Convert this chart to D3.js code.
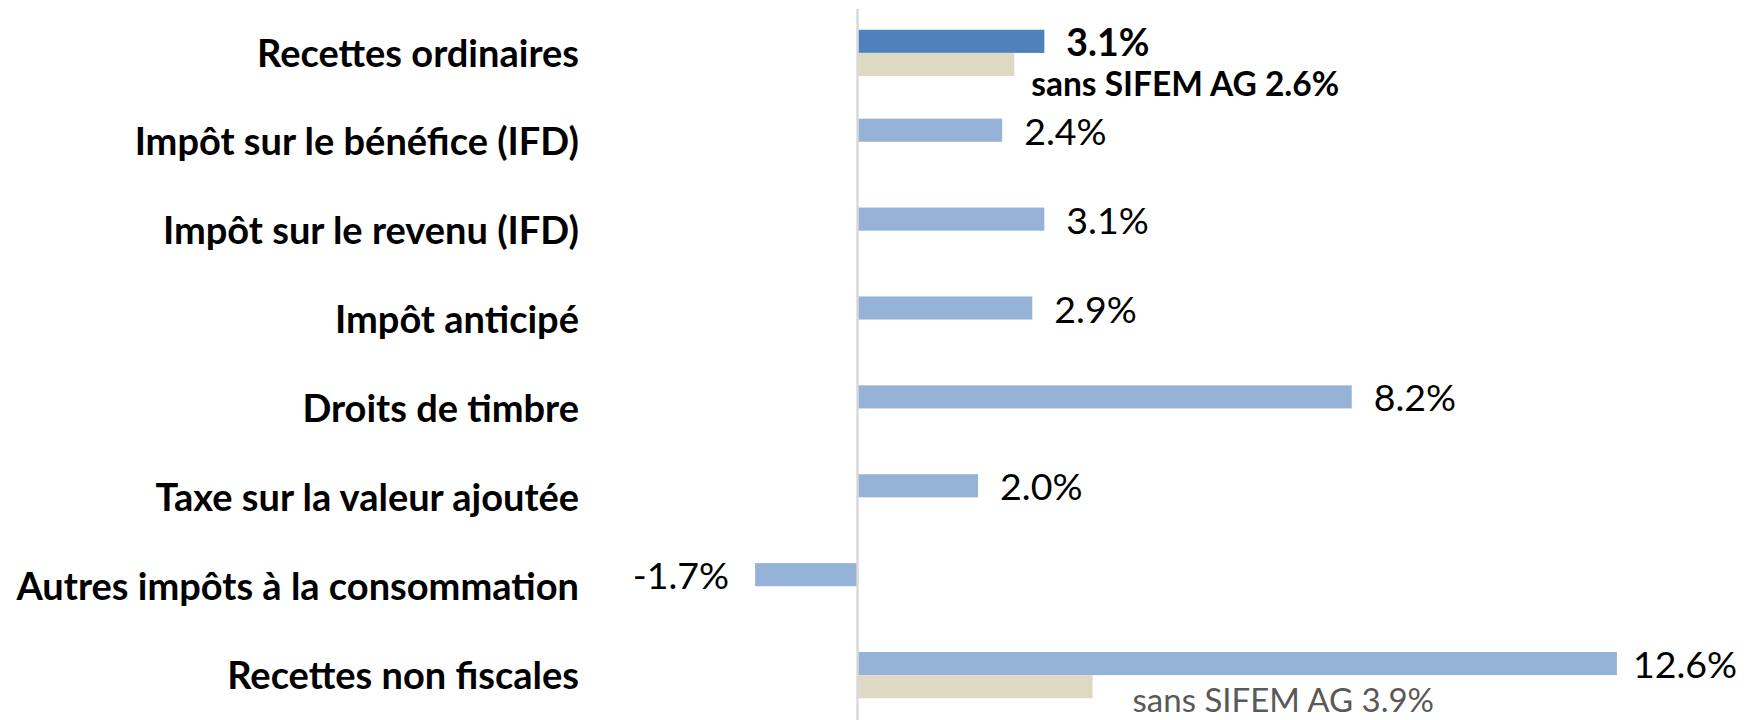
<!DOCTYPE html>
<html>
<head>
<meta charset="utf-8">
<script src="https://cdn.jsdelivr.net/npm/d3@7"></script>
<style>
    body { margin: 0; background: #fff; }
    svg text { font-family: Lato, "Open Sans", sans-serif; }
</style>
</head>
<body>
<div id="chart"></div>
<script>
// growth rates, in percent
const categories = [
    "Recettes ordinaires",
    "Impôt sur le bénéfice (IFD)",
    "Impôt sur le revenu (IFD)",
    "Impôt anticipé",
    "Droits de timbre",
    "Taxe sur la valeur ajoutée",
    "Autres impôts à la consommation",
    "Recettes non fiscales",
];
const values = [3.1, 2.4, 3.1, 2.9, 8.2, 2.0, -1.7, 12.6];
const valuesWithoutSifem = [2.6, null, null, null, null, null, null, 3.9];
const altLabelPrefix = "sans SIFEM AG ";

class GrowthBarChart {
    constructor(_config) {
        this.config = {
            parentElement: _config.parentElement,
            containerWidth: _config.containerWidth || 1752,
            containerHeight: _config.containerHeight || 720,
            labelRight: 579,
            labelSize: 38,
            valueSize: 37.5,
        };
        this.rows = categories.map((c, i) => ({
            category: c,
            value: values[i],
            alt: valuesWithoutSifem[i],
            highlight: i === 0,
        }));
        this.initVis();
    }

    initVis() {
        let vis = this;
        const fmt = (d) => `${d.toFixed(1)}%`;

        vis.svg = d3.select(vis.config.parentElement)
            .append("svg")
            .attr("width", vis.config.containerWidth)
            .attr("height", vis.config.containerHeight);

        vis.xScale = d3.scaleLinear().domain([-2, 13]).range([737, 1641]);
        vis.yScale = d3.scaleBand()
            .domain(categories)
            .range([12, 716])
            .paddingInner(0.48)
            .paddingOuter(0.2);
        vis.subScale = d3.scaleBand()
            .domain(["value", "alt"])
            .range([0, vis.yScale.bandwidth()]);

        const x0 = vis.xScale(0);
        const bh = vis.subScale.bandwidth();

        // row labels
        vis.svg.append("g")
            .selectAll("text")
            .data(vis.rows)
            .join("text")
            .attr("x", vis.config.labelRight)
            .attr("y", (d) => vis.yScale(d.category) + vis.yScale.bandwidth() / 2)
            .attr("dy", "0.36em")
            .attr("text-anchor", "end")
            .attr("font-size", vis.config.labelSize)
            .attr("font-weight", "bold")
            .attr("fill", "#000")
            .text((d) => d.category);

        // main bars
        vis.svg.append("g")
            .selectAll("rect")
            .data(vis.rows)
            .join("rect")
            .attr("x", (d) => Math.min(x0, vis.xScale(d.value)))
            .attr("y", (d) => vis.yScale(d.category) + vis.subScale("value"))
            .attr("width", (d) => Math.abs(vis.xScale(d.value) - x0))
            .attr("height", bh)
            .attr("fill", (d) => (d.highlight ? "#4f81bd" : "#95b3d7"));

        // bars without SIFEM AG
        const altRows = vis.rows.filter((d) => d.alt !== null);
        vis.svg.append("g")
            .selectAll("rect")
            .data(altRows)
            .join("rect")
            .attr("x", x0)
            .attr("y", (d) => vis.yScale(d.category) + vis.subScale("alt"))
            .attr("width", (d) => vis.xScale(d.alt) - x0)
            .attr("height", bh)
            .attr("fill", "#ddd9c4");

        // zero line
        vis.svg.append("line")
            .attr("x1", x0).attr("x2", x0)
            .attr("y1", 9).attr("y2", vis.config.containerHeight)
            .attr("stroke", "#d9d9d9")
            .attr("stroke-width", 2.5);

        // value labels
        vis.svg.append("g")
            .selectAll("text")
            .data(vis.rows)
            .join("text")
            .attr("x", (d) => (d.value < 0 ? vis.xScale(d.value) - 26 : vis.xScale(d.value) + (d.value > 10 ? 16 : 22)))
            .attr("y", (d) => vis.yScale(d.category) + vis.subScale("value") + bh / 2 + 1)
            .attr("dy", "0.36em")
            .attr("text-anchor", (d) => (d.value < 0 ? "end" : "start"))
            .attr("font-size", vis.config.valueSize)
            .attr("font-weight", (d) => (d.highlight ? "bold" : "normal"))
            .attr("fill", "#000")
            .text((d) => fmt(d.value));

        // labels for the values without SIFEM AG, set below the bars
        vis.svg.append("g")
            .selectAll("text")
            .data(altRows)
            .join("text")
            .attr("x", (d) => (d.highlight ? vis.xScale(d.alt) + 17 : vis.xScale(d.alt) + 40))
            .attr("y", (d) => vis.yScale(d.category) + vis.subScale("alt") + bh / 2 + (d.highlight ? 19 : 13))
            .attr("dy", "0.36em")
            .attr("font-size", (d) => (d.highlight ? 33.5 : 33))
            .attr("font-weight", (d) => (d.highlight ? "bold" : "normal"))
            .attr("fill", (d) => (d.highlight ? "#000" : "#595959"))
            .text((d) => altLabelPrefix + fmt(d.alt));
    }
}

new GrowthBarChart({ parentElement: "#chart" });
</script>
</body>
</html>
